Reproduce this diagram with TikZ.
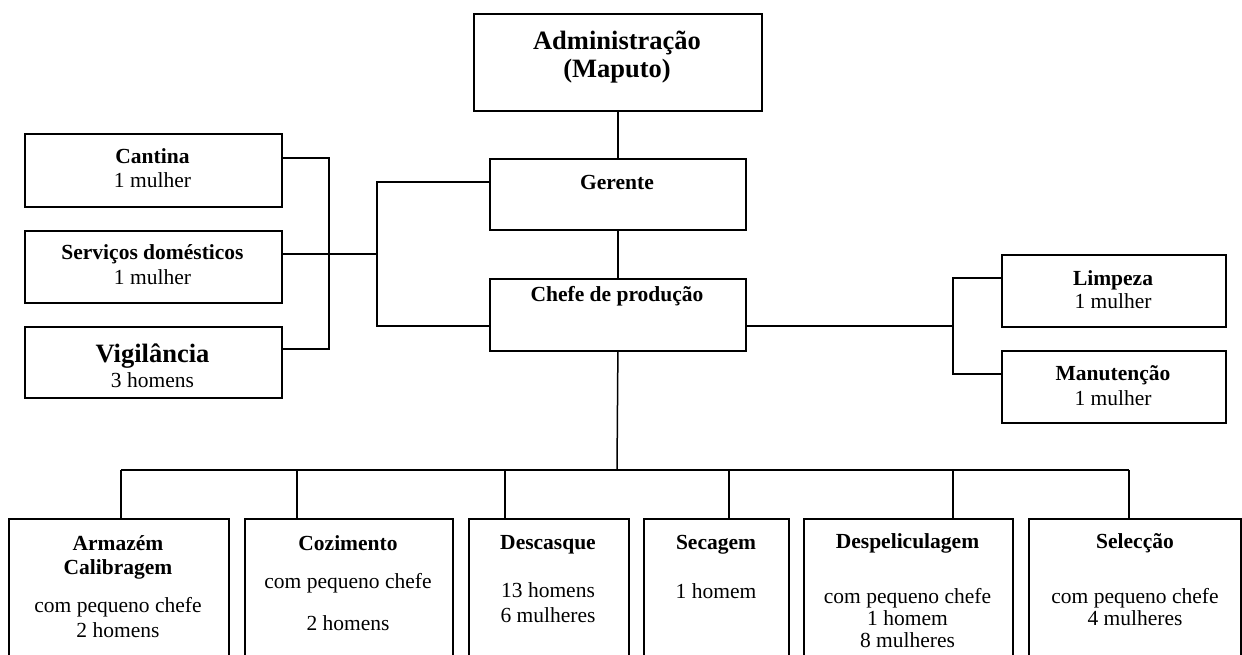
\documentclass[tikz,border=0pt]{standalone}
\usepackage{fontspec}
\setmainfont{Liberation Serif}
\tikzset{
  box/.style={draw, line width=1.8pt, rectangle, anchor=north west, inner sep=0pt},
  conn/.style={line width=1.5pt},
  ln/.style={anchor=base, inner sep=0pt, font=\fontsize{21.5}{24}\selectfont},
  tl/.style={anchor=base, inner sep=0pt, font=\fontsize{21.5}{24}\selectfont\bfseries},
  big/.style={anchor=base, inner sep=0pt, font=\fontsize{26.5}{28}\selectfont\bfseries}
}
\begin{document}
\begin{tikzpicture}[x=1pt,y=-1pt]
\useasboundingbox (0,0) rectangle (1242,655);
\clip (0,0) rectangle (1242,655);
% boxes
\node[box, minimum width=288, minimum height=97] (admin) at (473,13) {};
\node[box, minimum width=256, minimum height=71] (gerente) at (489,158) {};
\node[box, minimum width=256, minimum height=72] (chefe) at (489,278) {};
\node[box, minimum width=257, minimum height=73] (cantina) at (24,133) {};
\node[box, minimum width=257, minimum height=72] (servicos) at (24,230) {};
\node[box, minimum width=257, minimum height=71] (vigil) at (24,326) {};
\node[box, minimum width=224, minimum height=72] (limpeza) at (1001,254) {};
\node[box, minimum width=224, minimum height=72] (manut) at (1001,350) {};
\node[box, minimum width=220, minimum height=150] (armazem) at (8,518) {};
\node[box, minimum width=208, minimum height=150] (cozim) at (244,518) {};
\node[box, minimum width=160, minimum height=150] (descas) at (468,518) {};
\node[box, minimum width=145, minimum height=150] (secagem) at (643,518) {};
\node[box, minimum width=209, minimum height=150] (despel) at (803,518) {};
\node[box, minimum width=212, minimum height=150] (selec) at (1028,518) {};
% texts
\node[big] (adminA) at (617,50) {Administração};
\node[big] (adminB) at (617,78) {(Maputo)};
\node[tl] (gerenteA) at (617,190) {Gerente};
\node[tl] (chefeA) at (617,301) {Chefe de produção};
\node[tl] (cantinaA) at (152.5,164) {Cantina};
\node[ln] (cantinaB) at (152.5,188) {1 mulher};
\node[tl] (servicosA) at (152.5,259) {Serviços domésticos};
\node[ln] (servicosB) at (152.5,284) {1 mulher};
\node[big] (vigilA) at (152.5,362) {Vigilância};
\node[ln] (vigilB) at (152.5,387) {3 homens};
\node[tl] (limpezaA) at (1113,285) {Limpeza};
\node[ln] (limpezaB) at (1113,308) {1 mulher};
\node[tl] (manutA) at (1113,380) {Manutenção};
\node[ln] (manutB) at (1113,405) {1 mulher};
\node[tl] (armazemA) at (118,550) {Armazém};
\node[tl] (armazemB) at (118,574) {Calibragem};
\node[ln] (armazemC) at (118,612) {com pequeno chefe};
\node[ln] (armazemD) at (118,637) {2 homens};
\node[tl] (cozimA) at (348,550) {Cozimento};
\node[ln] (cozimB) at (348,588) {com pequeno chefe};
\node[ln] (cozimC) at (348,630) {2 homens};
\node[tl] (descasA) at (548,549) {Descasque};
\node[ln] (descasB) at (548,597) {13 homens};
\node[ln] (descasC) at (548,622) {6 mulheres};
\node[tl] (secagemA) at (716,549) {Secagem};
\node[ln] (secagemB) at (716,598) {1 homem};
\node[tl] (despelA) at (907.5,548) {Despeliculagem};
\node[ln] (despelB) at (907.5,603) {com pequeno chefe};
\node[ln] (despelC) at (907.5,625) {1 homem};
\node[ln] (despelD) at (907.5,647) {8 mulheres};
\node[tl] (selecA) at (1135,548) {Selecção};
\node[ln] (selecB) at (1135,603) {com pequeno chefe};
\node[ln] (selecC) at (1135,625) {4 mulheres};
% coordinates
\coordinate (bus) at (617,470);
\coordinate (d1) at (121,470);
\coordinate (d2) at (297,470);
\coordinate (d3) at (505,470);
\coordinate (d4) at (729,470);
\coordinate (d5) at (953,470);
\coordinate (d6) at (1129,470);
\coordinate (lb1) at (329,158);
\coordinate (lb2) at (329,349);
\coordinate (mb1) at (377,182);
\coordinate (mbm) at (377,254);
\coordinate (mb2) at (377,326);
\coordinate (rb1) at (953,278);
\coordinate (rbm) at (953,326);
\coordinate (rb2) at (953,374);
% connectors
\draw[conn] (admin.south) -- (gerente.north);
\draw[conn] (gerente.south) -- (chefe.north);
\draw[conn] (chefe.south) -- (bus);
\draw[conn] (d1) -- (d6);
\draw[conn] (d1) -- (d1 |- armazem.north);
\draw[conn] (d2) -- (d2 |- cozim.north);
\draw[conn] (d3) -- (d3 |- descas.north);
\draw[conn] (d4) -- (d4 |- secagem.north);
\draw[conn] (d5) -- (d5 |- despel.north);
\draw[conn] (d6) -- (d6 |- selec.north);
\draw[conn] (cantina.east |- lb1) -- (lb1) -- (lb2) -- (vigil.east |- lb2);
\draw[conn] (servicos.east |- mbm) -- (mbm);
\draw[conn] (gerente.west |- mb1) -- (mb1) -- (mb2) -- (chefe.west |- mb2);
\draw[conn] (chefe.east |- rbm) -- (rbm);
\draw[conn] (limpeza.west |- rb1) -- (rb1) -- (rb2) -- (manut.west |- rb2);
\end{tikzpicture}
\end{document}
